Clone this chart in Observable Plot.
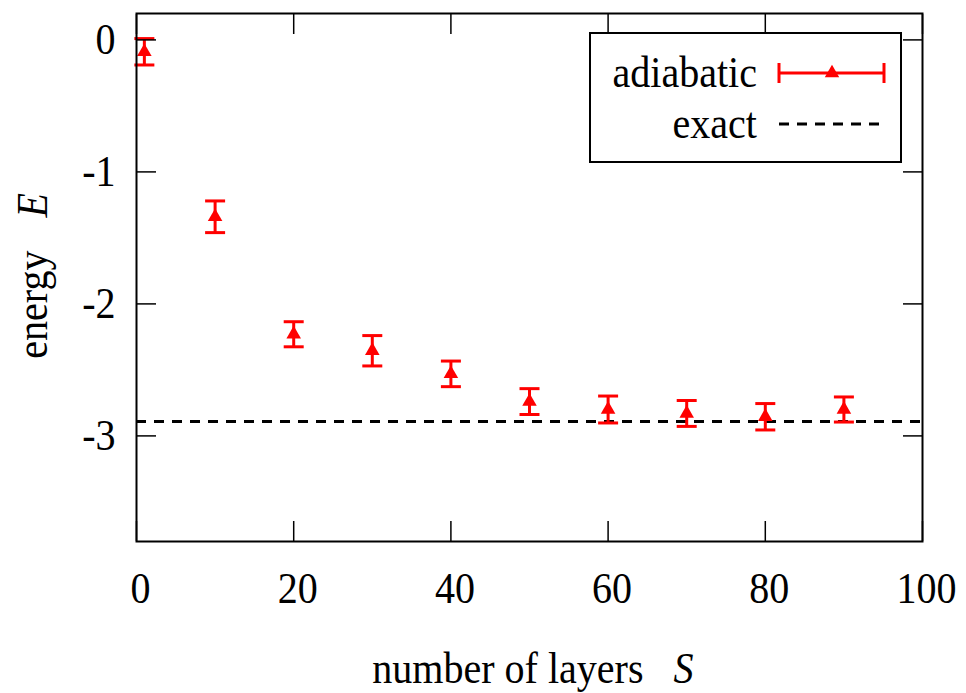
<!DOCTYPE html>
<html><head><meta charset="utf-8">
<script src="https://cdn.jsdelivr.net/npm/d3@7"></script>
<script src="https://cdn.jsdelivr.net/npm/@observablehq/plot@0.6"></script>
<style>
body{margin:0;background:#fff;}
#wrap{position:relative;width:966px;height:693px;font-family:"Liberation Serif","Times New Roman",serif;}
#legend{position:absolute;left:589px;top:32px;width:309px;height:127px;border:2px solid #000;background:#fff;}
#legend svg{display:block;}
</style></head><body>
<div id="wrap"><div id="chart"></div><div id="legend"></div></div>
<script>
const layers = [1, 10, 20, 30, 40, 50, 60, 70, 80, 90];
const energy = [-0.09, -1.34, -2.23, -2.355, -2.53, -2.74, -2.80, -2.83, -2.855, -2.80];
const errors = [0.10, 0.12, 0.095, 0.115, 0.097, 0.098, 0.102, 0.098, 0.10, 0.095];
const exactEnergy = -2.89;
const xTicks = [0, 20, 40, 60, 80, 100];
const yTicks = [0, -1, -2, -3];
const xLabel = "number of layers", xSymbol = "S";
const yLabel = "energy", ySymbol = "E";
const seriesNames = ["adiabatic", "exact"];

const red = "#ff0000";
const font = '"Liberation Serif","Times New Roman",serif';
const FS = 44, SX = 0.91;
const data = layers.map((s, i) => ({S: s, E: energy[i], lo: energy[i] - errors[i], hi: energy[i] + errors[i]}));
const cap = {draw(ctx) { ctx.moveTo(-10, 0); ctx.lineTo(10, 0); }};
const blank = () => "";

const chart = Plot.plot({
  width: 966, height: 693,
  marginLeft: 136, marginRight: 44, marginTop: 13, marginBottom: 152,
  style: {fontFamily: font, fontSize: FS + "px", color: "#000", background: "#fff", overflow: "visible"},
  x: {domain: [0, 100]},
  y: {domain: [-3.8, 0.2]},
  marks: [
    Plot.ruleY([exactEnergy], {stroke: "#000", strokeWidth: 3, strokeDasharray: "10,8"}),
    Plot.ruleX(data, {x: "S", y1: "lo", y2: "hi", stroke: red, strokeWidth: 3}),
    Plot.dot(data, {x: "S", y: "lo", symbol: cap, stroke: red, strokeWidth: 3, fill: "none"}),
    Plot.dot(data, {x: "S", y: "hi", symbol: cap, stroke: red, strokeWidth: 3, fill: "none"}),
    Plot.dot(data, {x: "S", y: "E", symbol: "triangle", fill: red, stroke: "none", r: 5.4}),
    Plot.axisX({ticks: xTicks, tickSize: 0, tickPadding: 30, label: null, fontSize: FS, dx: 4, tickFormat: d => String(d)}),
    Plot.axisX({ticks: xTicks, tickSize: -20, tickFormat: blank, label: null, strokeWidth: 1.5}),
    Plot.axisX({anchor: "top", ticks: xTicks, tickSize: -20, tickFormat: blank, label: null, strokeWidth: 1.5}),
    Plot.axisY({ticks: yTicks, tickSize: 0, tickPadding: 21, label: null, fontSize: FS, tickFormat: d => String(d)}),
    Plot.axisY({ticks: yTicks, tickSize: -20, tickFormat: blank, label: null, strokeWidth: 1.5}),
    Plot.axisY({anchor: "right", ticks: yTicks, tickSize: -20, tickFormat: blank, label: null, strokeWidth: 1.5}),
    Plot.frame({stroke: "#000", strokeWidth: 2}),
    Plot.text([xLabel], {frameAnchor: "bottom", textAnchor: "end", lineAnchor: "middle", dx: 114, dy: 127, fontSize: FS}),
    Plot.text([xSymbol], {frameAnchor: "bottom", textAnchor: "start", lineAnchor: "middle", dx: 144, dy: 127, fontSize: FS, fontStyle: "italic"}),
    Plot.text([yLabel], {frameAnchor: "left", textAnchor: "end", lineAnchor: "middle", rotate: -90, dx: -104, dy: -27, fontSize: FS}),
    Plot.text([ySymbol], {frameAnchor: "left", textAnchor: "start", lineAnchor: "middle", rotate: -90, dx: -104, dy: -60, fontSize: FS, fontStyle: "italic"})
  ]
});
document.getElementById("chart").append(chart);

// condense glyphs horizontally (in the text's own frame) to match the narrow serif of the reference
d3.select(chart).selectAll("text").each(function() {
  const t = this.getAttribute("transform");
  if (t) this.setAttribute("transform", t + ` scale(${SX},1)`);
});

// legend
const lg = d3.select("#legend").append("svg").attr("width", 309).attr("height", 127)
  .style("font-family", font).style("font-size", FS + "px");
const rows = [{name: seriesNames[0], y: 39}, {name: seriesNames[1], y: 90}];
lg.selectAll("text").data(rows).join("text")
  .attr("transform", d => `translate(166,${d.y}) scale(${SX},1)`).attr("dy", "0.32em").attr("text-anchor", "end").text(d => d.name);
const s = lg.append("g").attr("stroke", red).attr("stroke-width", 3);
s.append("line").attr("x1", 188).attr("x2", 293).attr("y1", 39).attr("y2", 39);
s.append("line").attr("x1", 188).attr("x2", 188).attr("y1", 29).attr("y2", 49);
s.append("line").attr("x1", 293).attr("x2", 293).attr("y1", 29).attr("y2", 49);
lg.append("path").attr("d", d3.symbol(d3.symbolTriangle, 90)()).attr("transform", "translate(241,39)").attr("fill", red);
lg.append("line").attr("x1", 188).attr("x2", 293).attr("y1", 90).attr("y2", 90)
  .attr("stroke", "#000").attr("stroke-width", 3).attr("stroke-dasharray", "10,8");
</script>
</body></html>
